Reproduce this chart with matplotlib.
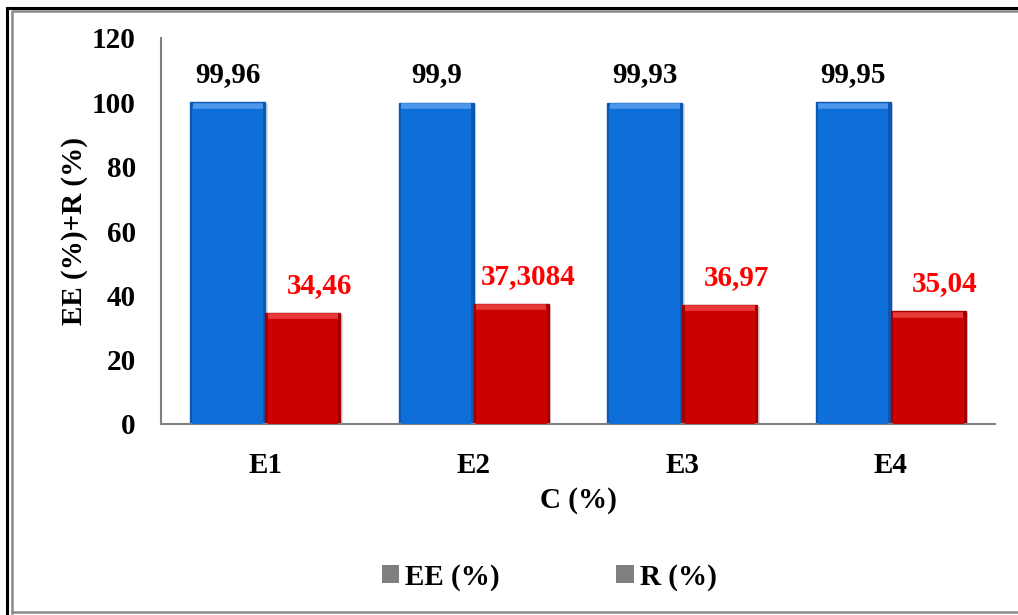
import numpy as np
import matplotlib
matplotlib.use('Agg')
import matplotlib.pyplot as plt
from matplotlib.patches import Patch
from matplotlib.lines import Line2D

# values
samples = ['E1', 'E2', 'E3', 'E4']
ee_vals = [99.96, 99.9, 99.93, 99.95]
r_vals = [34.46, 37.3084, 36.97, 35.04]
ee_text = ['99,96', '99,9', '99,93', '99,95']
r_text = ['34,46', '37,3084', '36,97', '35,04']

plt.rcParams['font.family'] = ['Liberation Serif', 'DejaVu Serif']
plt.rcParams['font.weight'] = 'bold'
fs = 21

fig = plt.figure(figsize=(10.18, 6.15), dpi=100)
ax = fig.add_axes([161/1018, 1 - 424/615, (995-161)/1018, (424-38)/615])

x = np.arange(len(samples))
w = 0.36

def bevel_bars(xpos, vals, face, light, dark):
    # drop shadow, body, then a lighter rim for the raised look
    ax.bar(xpos + 0.012, vals, w, bottom=-0.6, color='#bdbdbd', alpha=0.5, zorder=1)
    ax.bar(xpos, vals, w, color=dark, edgecolor=dark, linewidth=1.0, zorder=2)
    ax.bar(xpos, np.array(vals) - 1.0, w * 0.94, bottom=0.0, color=face,
           edgecolor='none', zorder=3)
    ax.bar(xpos, np.array(vals) - 3.0, w * 0.86, bottom=1.0, color=face,
           edgecolor='none', zorder=3)
    for xi, v in zip(xpos, vals):
        ax.plot([xi - w/2 + 0.012, xi + w/2 - 0.012], [v - 1.0, v - 1.0],
                color=light, lw=4, zorder=4, solid_capstyle='butt')

bevel_bars(x - w/2, ee_vals, '#0f6fd8', '#4d96ea', '#0b58b4')
bevel_bars(x + w/2, r_vals, '#cc0000', '#e83a3a', '#a00000')

for xi, v, t in zip(x - w/2, ee_vals, ee_text):
    ax.text(xi, v + 4.4, t, ha='center', va='bottom', fontsize=fs,
            fontweight='bold', color='black')
for xi, v, t in zip(x + w/2, r_vals, r_text):
    ax.text(xi + 0.08, v + 4.4, t, ha='center', va='bottom', fontsize=fs,
            fontweight='bold', color='#ff0000')

ax.set_xlim(-0.5, 3.5)
ax.set_ylim(0, 120)
ax.set_yticks(np.arange(0, 121, 20))
ax.set_xticks(x)
ax.set_xticklabels(samples)
ax.tick_params(axis='both', length=0, labelsize=fs)
ax.tick_params(axis='y', pad=18)
ax.tick_params(axis='x', pad=20)
for s in ['top', 'right']:
    ax.spines[s].set_visible(False)
for s in ['left', 'bottom']:
    ax.spines[s].set_color('#808080')
    ax.spines[s].set_linewidth(1.5)
ax.set_xlabel('C (%)', fontsize=fs, fontweight='bold', labelpad=6)
ax.set_ylabel('EE (%)+R (%)', fontsize=fs, fontweight='bold', labelpad=3)

handles = [Patch(facecolor='#808080', edgecolor='none', label='EE (%)'),
           Patch(facecolor='#808080', edgecolor='none', label='R (%)')]
fig.legend(handles=handles, loc='center', bbox_to_anchor=(549/1018, 38/615),
           ncol=2, frameon=False, fontsize=fs, handlelength=0.6, handleheight=0.6,
           handletextpad=0.2, columnspacing=4.0)

# page frame
fig.add_artist(Line2D([7/1018, 7/1018], [0, 1 - 8/615], color='black', lw=2.2,
                      transform=fig.transFigure))
fig.add_artist(Line2D([7/1018, 1], [1 - 8/615, 1 - 8/615], color='black', lw=2.2,
                      transform=fig.transFigure))
fig.add_artist(Line2D([12/1018, 12/1018, 1], [2/615, 1 - 11/615, 1 - 11/615],
                      color='#8a8a8a', lw=1.8, transform=fig.transFigure))
fig.add_artist(Line2D([12/1018, 1], [3/615, 3/615], color='#8a8a8a', lw=1.8,
                      transform=fig.transFigure))

fig.savefig('out.png', dpi=100)
